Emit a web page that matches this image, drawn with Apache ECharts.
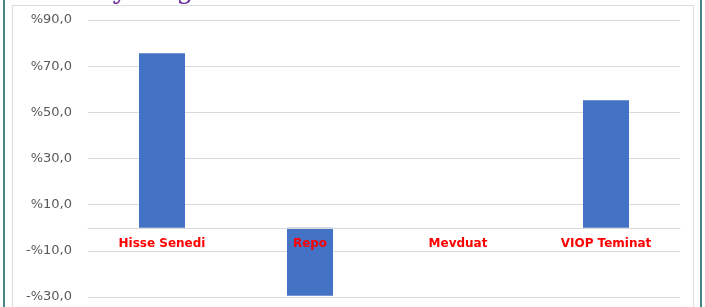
<!DOCTYPE html>
<html>
<head>
<meta charset="utf-8">
<script src="https://cdn.jsdelivr.net/npm/echarts@6/dist/echarts.min.js"></script>
<style>
  html, body { margin: 0; padding: 0; background: #fff; }
  .frame {
    position: absolute; left: 3px; top: -10px; width: 695px; height: 330px;
    border-left: 2px solid #4a8585; border-right: 2px solid #4a8585;
  }
  .inner {
    position: absolute; left: 12px; top: 5px; width: 680px; height: 320px;
    border: 1px solid #dcdcdc;
  }
  #chart { position: absolute; left: 0; top: 0; width: 705px; height: 307px; }
</style>
</head>
<body>
<div class="frame"></div>
<div class="inner"></div>
<div id="chart"></div>
<script>
const categories = ['Hisse Senedi', 'Repo', 'Mevduat', 'VIOP Teminat']
const values = [75.6, -29.5, 0, 55.2]
const zeros = [0, 0, 0, 0] // kategori adlarını sıfır çizgisinin altına yazmak için

// eksen etiketi: %90,0 / -%10,0
const pctLabel = v => (v < 0 ? '-' : '') + '%' + Math.abs(v).toFixed(1).replace('.', ',')

const chart = echarts.init(document.getElementById('chart'))
const option = {
  animation: false,
  graphic: [{
    type: 'text',
    x: 26,
    y: -23,
    style: {
      text: 'Portföy Dağılımı',
      font: '28px "DejaVu Serif"',
      fill: '#7030a0'
    }
  }],
  grid: { left: 88, right: 25, top: 20, bottom: 10, containLabel: false, outerBoundsMode: 'none' },
  xAxis: {
    type: 'category',
    data: categories,
    z: 10,
    axisLine: { lineStyle: { color: '#d9d9d9' } },
    axisTick: { show: false },
    axisLabel: { show: false }
  },
  yAxis: {
    type: 'value',
    min: -30,
    max: 90,
    interval: 20,
    axisLine: { show: false },
    axisTick: { show: false },
    splitLine: { lineStyle: { color: '#d9d9d9' } },
    axisLabel: {
      color: '#595959',
      fontSize: 13,
      fontFamily: 'DejaVu Sans',
      margin: 16,
      formatter: pctLabel
    }
  },
  series: [{
    type: 'bar',
    data: values,
    barWidth: 46,
    itemStyle: { color: '#4472c4' }
  }, {
    type: 'bar',
    data: zeros,
    barWidth: 46,
    barGap: '-100%',
    z: 5,
    itemStyle: { color: 'transparent' },
    label: {
      show: true,
      position: 'bottom',
      distance: 10,
      formatter: p => p.name,
      color: '#ff0000',
      fontWeight: 'bold',
      fontSize: 12,
      fontFamily: 'DejaVu Sans'
    }
  }]
}
chart.setOption(option)
</script>
</body>
</html>
